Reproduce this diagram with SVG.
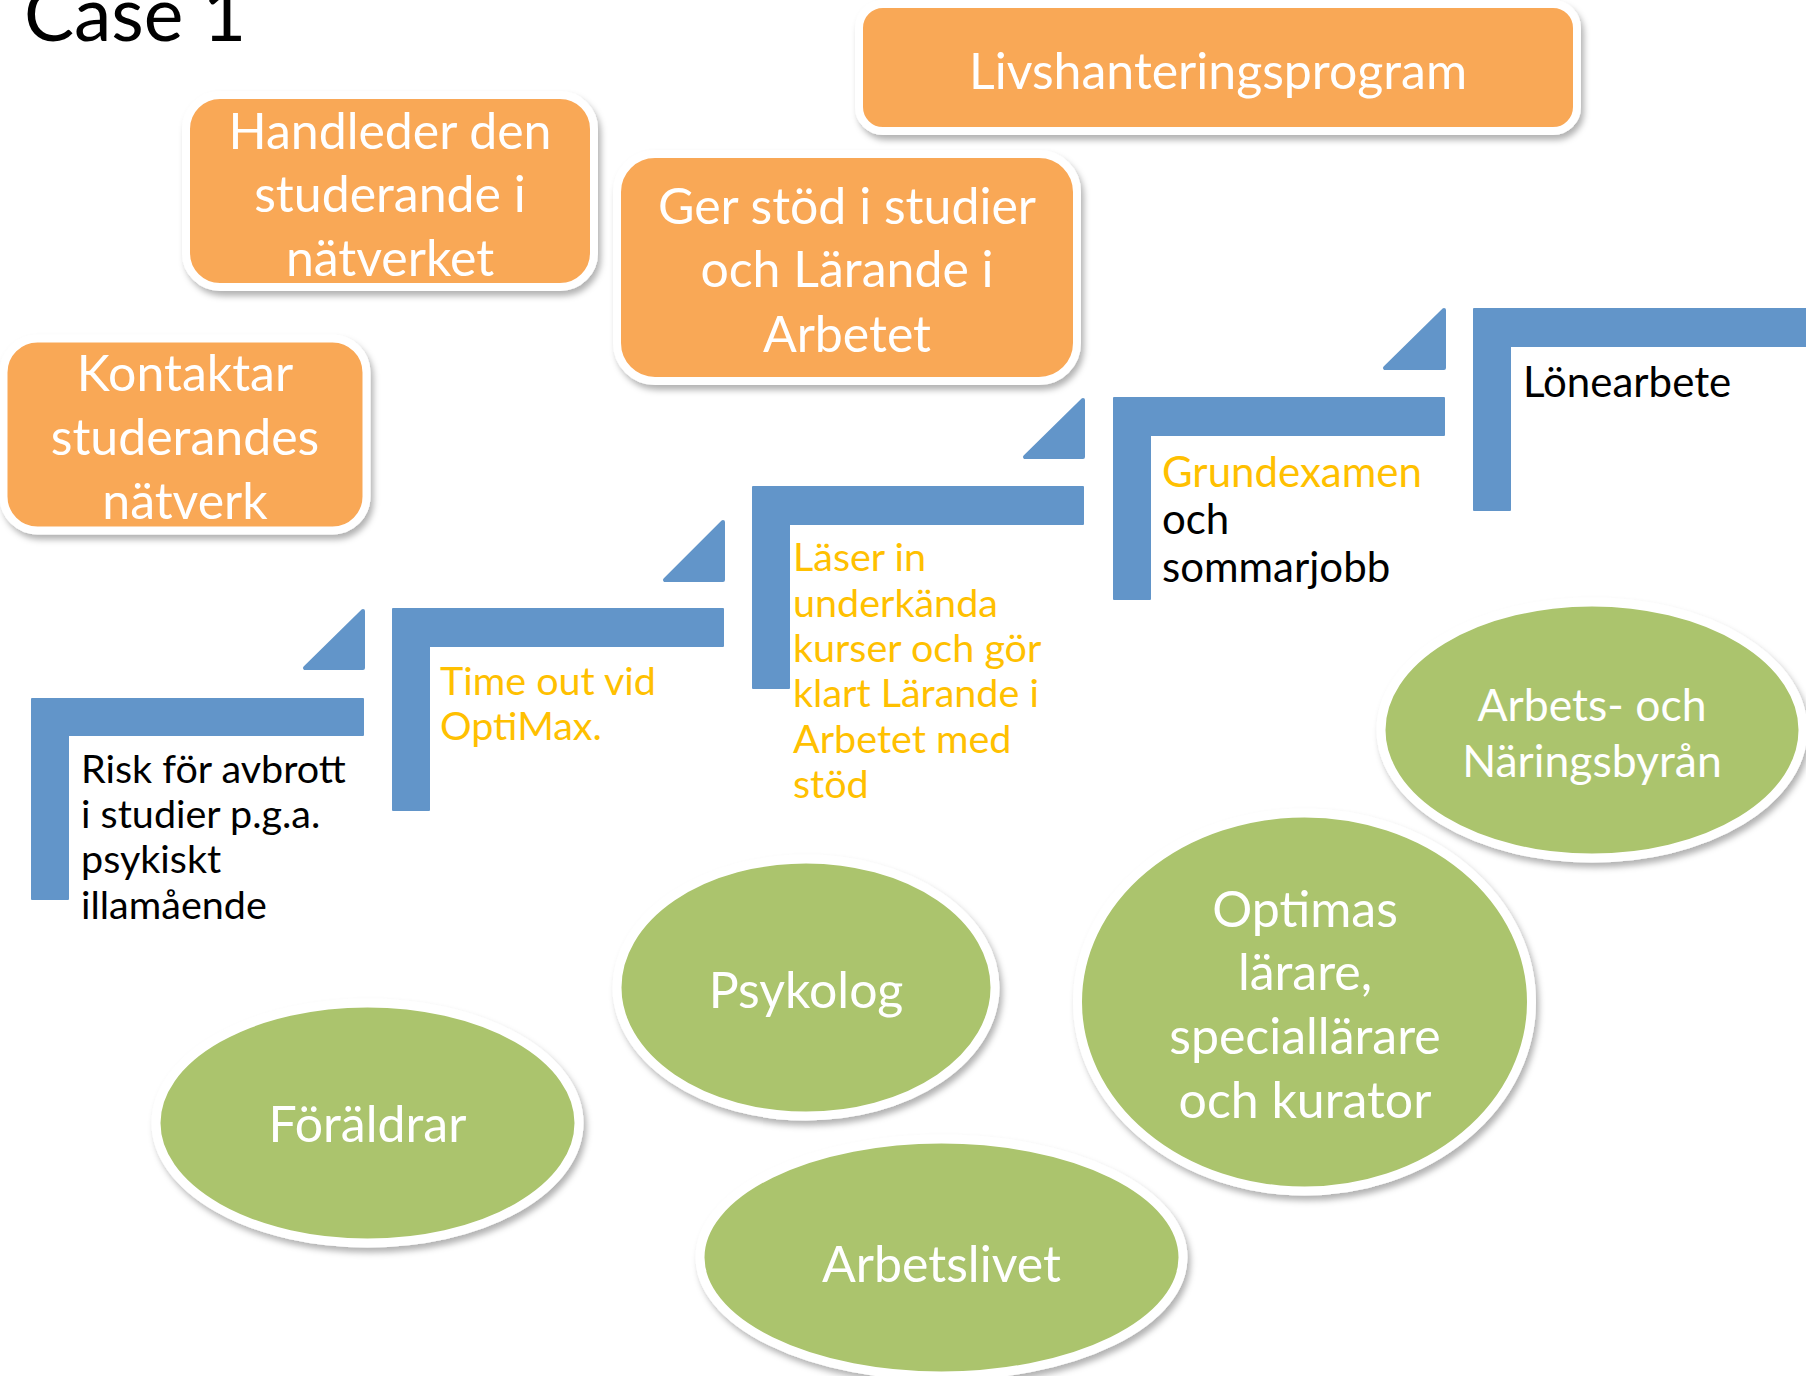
<svg xmlns="http://www.w3.org/2000/svg" width="1806" height="1376" viewBox="0 0 1806 1376">
  <defs>
    <filter id="shadow" x="-10%" y="-10%" width="125%" height="130%">
      <feDropShadow dx="3" dy="5" stdDeviation="3" flood-color="#000" flood-opacity="0.3"/>
    </filter>
    <style>
      .box { fill: #F9A857; stroke: #FFFFFF; stroke-width: 8; filter: url(#shadow); }
      .oval { fill: #ABC46D; stroke: #FFFFFF; stroke-width: 9; filter: url(#shadow); }
      .step { fill: #6295C9; stroke: #6295C9; stroke-width: 2; stroke-linejoin: round; }
      .tri { fill: #6295C9; stroke: #6295C9; stroke-width: 4; stroke-linejoin: round; }
      text { font-family: Lato, "Open Sans", "Liberation Sans", sans-serif; }
      .wt { fill: #FFFFFF; font-size: 50px; text-anchor: middle; }
      .wt2 { fill: #FFFFFF; font-size: 44.5px; text-anchor: middle; }
      .bk { fill: #000000; font-size: 39.5px; }
      .yl { fill: #FFC000; font-size: 39.5px; }
      .lg { font-size: 42px; }
      .title { fill: #000000; font-size: 75px; }
    </style>
  </defs>
  <rect width="1806" height="1376" fill="#FFFFFF"/>

  <text class="title" x="24" y="41">Case 1</text>

  <g id="staircase">
    <g id="step1">
      <path class="step" d="M32,699 H363 V735 H68 V899 H32 Z"/>
      <path class="tri" d="M363,611 L305,668 H363 Z"/>
      <text class="bk" x="81" y="783">Risk för avbrott</text>
      <text class="bk" x="81" y="828">i studier p.g.a.</text>
      <text class="bk" x="81" y="873">psykiskt</text>
      <text class="bk" x="81" y="919">illamående</text>
    </g>
    <g id="step2">
      <path class="step" d="M393,609 H723 V646 H429 V810 H393 Z"/>
      <path class="tri" d="M723,522 L665,580 H723 Z"/>
      <text class="yl" x="440" y="695">Time out vid</text>
      <text class="yl" x="440" y="740">OptiMax.</text>
    </g>
    <g id="step3">
      <path class="step" d="M753,487 H1083 V524 H789 V688 H753 Z"/>
      <path class="tri" d="M1083,400 L1025,457 H1083 Z"/>
      <text class="yl" x="793" y="571">Läser in</text>
      <text class="yl" x="793" y="617">underkända</text>
      <text class="yl" x="793" y="662">kurser och gör</text>
      <text class="yl" x="793" y="707">klart Lärande i</text>
      <text class="yl" x="793" y="753">Arbetet med</text>
      <text class="yl" x="793" y="798">stöd</text>
    </g>
    <g id="step4">
      <path class="step" d="M1114,398 H1444 V435 H1150 V599 H1114 Z"/>
      <path class="tri" d="M1444,310 L1385,368 H1444 Z"/>
      <text class="yl lg" x="1162" y="487">Grundexamen</text>
      <text class="bk lg" x="1162" y="534">och</text>
      <text class="bk lg" x="1162" y="582">sommarjobb</text>
    </g>
    <g id="step5">
      <path class="step" d="M1474,309 H1812 V346 H1510 V510 H1474 Z"/>
      <text class="bk lg" x="1523" y="397">Lönearbete</text>
    </g>
  </g>

  <g id="kontaktar">
    <rect class="box" x="3.5" y="338.5" width="363" height="192" rx="34"/>
    <text class="wt" x="185" y="391">Kontaktar</text>
    <text class="wt" x="185" y="455">studerandes</text>
    <text class="wt" x="185" y="519">nätverk</text>
  </g>
  <g id="handleder">
    <rect class="box" x="186" y="95" width="408" height="192" rx="34"/>
    <text class="wt" x="390" y="149">Handleder den</text>
    <text class="wt" x="390" y="212">studerande i</text>
    <text class="wt" x="390" y="276">nätverket</text>
  </g>
  <g id="gerstod">
    <rect class="box" x="617" y="154" width="460" height="227" rx="38"/>
    <text class="wt" x="847" y="224">Ger stöd i studier</text>
    <text class="wt" x="847" y="287">och Lärande i</text>
    <text class="wt" x="847" y="352">Arbetet</text>
  </g>
  <g id="livshantering">
    <rect class="box" x="859" y="4" width="718" height="127" rx="24"/>
    <text class="wt" x="1218" y="89">Livshanteringsprogram</text>
  </g>

  <g id="arbetsbyran">
    <ellipse class="oval" cx="1592" cy="730" rx="211" ry="128"/>
    <text class="wt2" x="1592" y="721">Arbets- och</text>
    <text class="wt2" x="1592" y="777">Näringsbyrån</text>
  </g>
  <g id="optimas">
    <ellipse class="oval" cx="1304.5" cy="1002" rx="227" ry="189"/>
    <text class="wt" x="1305" y="927">Optimas</text>
    <text class="wt" x="1305" y="990">lärare,</text>
    <text class="wt" x="1305" y="1054">speciallärare</text>
    <text class="wt" x="1305" y="1118">och kurator</text>
  </g>
  <g id="psykolog">
    <ellipse class="oval" cx="806" cy="987.5" rx="189" ry="128.5"/>
    <text class="wt" x="806" y="1008">Psykolog</text>
  </g>
  <g id="foraldrar">
    <ellipse class="oval" cx="367.5" cy="1123" rx="211.5" ry="120"/>
    <text class="wt" x="367.5" y="1142">Föräldrar</text>
  </g>
  <g id="arbetslivet">
    <ellipse class="oval" cx="941.5" cy="1257.5" rx="241.5" ry="118.5"/>
    <text class="wt" x="941.5" y="1282">Arbetslivet</text>
  </g>
</svg>
